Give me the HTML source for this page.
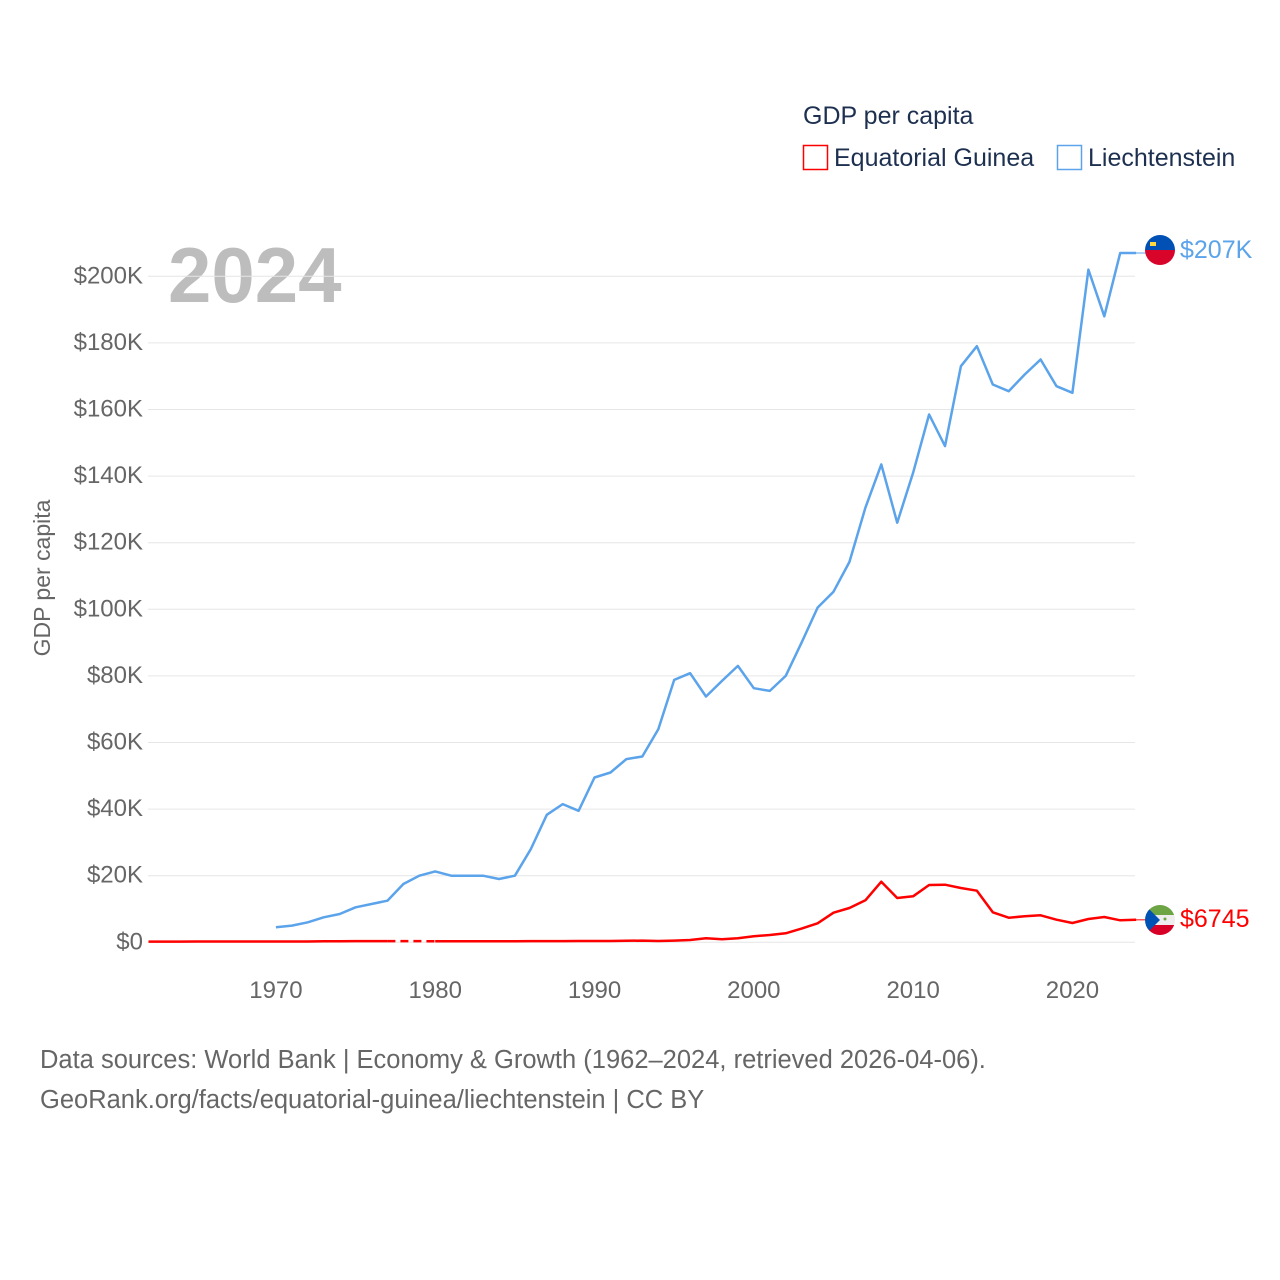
<!DOCTYPE html>
<html><head><meta charset="utf-8"><style>
html,body{margin:0;padding:0;background:#fff;}
svg{display:block;font-family:"Liberation Sans","Lato",sans-serif;}
</style></head><body>
<svg id="chart" width="1280" height="1280" viewBox="0 0 1280 1280">
<text x="803" y="124" font-size="25" fill="#1d3050">GDP per capita</text>
<g>
<rect x="803.5" y="145.5" width="24" height="24" fill="none" stroke="#ff0000" stroke-width="1.5"/>
<text x="834" y="166" font-size="25" fill="#1d3050">Equatorial Guinea</text></g>
<g>
<rect x="1057.5" y="145.5" width="24" height="24" fill="none" stroke="#5ba3ea" stroke-width="1.5"/>
<text x="1088" y="166" font-size="25" fill="#1d3050">Liechtenstein</text></g>
<text x="168" y="302" font-size="78" font-weight="bold" fill="#bdbdbd">2024</text>
<g id="grid"></g><g id="yticks"></g><g id="xticks"></g><g id="lines"></g>
<text transform="translate(50,578) rotate(-90)" text-anchor="middle" font-size="23" fill="#666">GDP per capita</text>
<text x="40" y="1068" font-size="25.5" fill="#666">Data sources: World Bank | Economy &amp; Growth (1962–2024, retrieved 2026-04-06).</text>
<text x="40" y="1108" font-size="25.5" fill="#666">GeoRank.org/facts/equatorial-guinea/liechtenstein | CC BY</text>
<g>
<clipPath id="c1"><circle cx="1160" cy="250" r="15"/></clipPath>
<g clip-path="url(#c1)"><rect x="1145" y="235" width="30" height="15" fill="#0050b5"/><rect x="1145" y="250" width="30" height="15" fill="#d90429"/><rect x="1150" y="242" width="6" height="4" fill="#ffd83d"/></g>
<text x="1180" y="258" font-size="25" fill="#5ba3ea">$207K</text></g>
<g>
<clipPath id="c2"><circle cx="1160" cy="920" r="15"/></clipPath>
<g clip-path="url(#c2)"><rect x="1145" y="905" width="30" height="10" fill="#6da544"/><rect x="1145" y="915" width="30" height="10" fill="#eee"/><rect x="1145" y="925" width="30" height="10" fill="#d80027"/><polygon points="1145,905 1160,920 1145,935" fill="#0052b4"/><circle cx="1165" cy="919" r="1.5" fill="#6da544"/></g>
<text x="1180" y="927" font-size="25" fill="#ff0000">$6745</text></g>
</svg>
<script>
const years = [];for(let y=1962;y<=2024;y++)years.push(y);
const yTicks=[0,20,40,60,80,100,120,140,160,180,200];
const xTicks=[1970,1980,1990,2000,2010,2020];
const lieYears=[1970,1971,1972,1973,1974,1975,1976,1977,1978,1979,1980,1981,1982,1983,1984,1985,1986,1987,1988,1989,1990,1991,1992,1993,1994,1995,1996,1997,1998,1999,2000,2001,2002,2003,2004,2005,2006,2007,2008,2009,2010,2011,2012,2013,2014,2015,2016,2017,2018,2019,2020,2021,2022,2023,2024];
const lieValues=[4.5,5,6,7.5,8.5,10.5,11.5,12.5,17.5,20,21.3,20,20,20,19,20,28,38.3,41.5,39.5,49.5,51,55,55.8,64,78.8,80.8,73.8,78.5,83,76.3,75.5,80,90,100.5,105.3,114.2,130.5,143.5,126,141,158.5,149,173,179,167.5,165.5,170.5,175,167,165,202,188,207,207];
const eqYears=years;
const eqValues=[0.2,0.2,0.2,0.25,0.25,0.25,0.25,0.25,0.25,0.25,0.25,0.3,0.3,0.35,0.35,0.35,0.35,0.35,0.3,0.3,0.3,0.3,0.3,0.3,0.35,0.35,0.35,0.4,0.4,0.4,0.45,0.5,0.4,0.5,0.7,1.2,0.9,1.2,1.8,2.2,2.7,4.1,5.7,8.9,10.3,12.6,18.2,13.3,13.8,17.2,17.3,16.3,15.5,9,7.4,7.8,8.1,6.8,5.8,7,7.6,6.6,6.745];
const gapStart=1977,gapEnd=1980;
const X=y=>148.5+(y-1962)*15.93;
const Y=v=>942.3-v*3.33;
const NS='http://www.w3.org/2000/svg';
function mk(tag,attrs,parent,text){const e=document.createElementNS(NS,tag);for(const k in attrs)e.setAttribute(k,attrs[k]);if(text!=null)e.textContent=text;parent.appendChild(e);return e;}
const grid=document.getElementById('grid'),yt=document.getElementById('yticks'),xt=document.getElementById('xticks'),lines=document.getElementById('lines');
yTicks.forEach(v=>{
 const l=mk('line',{x1:148,x2:1135,y1:Y(v),y2:Y(v),stroke:'#e6e6e6','stroke-width':1},grid);
 
 
 const t=mk('text',{x:143,y:Y(v)+7,'text-anchor':'end','font-size':24,fill:'#666'},yt,v===0?'$0':'$'+v+'K');
 
 
});
xTicks.forEach(y=>{
 const t=mk('text',{x:X(y),y:998,'text-anchor':'middle','font-size':24,fill:'#666'},xt,String(y));
 
 
});
function path(ys,vs){return ys.map((y,i)=>(i?'L':'M')+X(y).toFixed(1)+','+Y(vs[i]).toFixed(1)).join(' ');}
const lp=mk('path',{d:path(lieYears,lieValues),fill:'none',stroke:'#5ba3ea','stroke-width':2.5,'stroke-linejoin':'round'},lines);


const ll=mk('line',{x1:X(2024),y1:Y(207),x2:1148,y2:Y(207),stroke:'#5ba3ea','stroke-width':1},lines);


const i1=eqYears.indexOf(gapStart),i2=eqYears.indexOf(gapEnd);
const e1=mk('path',{d:path(eqYears.slice(0,i1+1),eqValues.slice(0,i1+1)),fill:'none',stroke:'#ff0000','stroke-width':2.5},lines);


const e2=mk('path',{d:path(eqYears.slice(i1,i2+1),eqValues.slice(i1,i2+1)),fill:'none',stroke:'#ff0000','stroke-width':2.5,'stroke-dasharray':'8 5'},lines);


const e3=mk('path',{d:path(eqYears.slice(i2),eqValues.slice(i2)),fill:'none',stroke:'#ff0000','stroke-width':2.5,'stroke-linejoin':'round'},lines);


const el=mk('line',{x1:X(2024),y1:Y(6.745),x2:1148,y2:Y(6.745),stroke:'#ff0000','stroke-width':1},lines);


</script>
</body></html>
